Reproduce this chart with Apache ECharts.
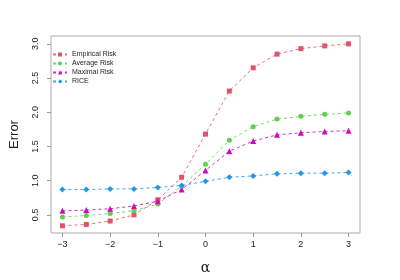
<!DOCTYPE html>
<html><head><meta charset="utf-8">
<script src="https://cdn.jsdelivr.net/npm/echarts@6/dist/echarts.min.js"></script>
<style>html,body{margin:0;padding:0;background:#fff}#c{width:400px;height:280px}</style>
</head><body><div id="c"></div>
<script>
const alphas = [-3,-2.5,-2,-1.5,-1,-0.5,0,0.5,1,1.5,2,2.5,3];
const empirical = [0.34,0.36,0.41,0.50,0.72,1.05,1.68,2.31,2.65,2.85,2.93,2.97,3.00];
const average   = [0.47,0.49,0.52,0.56,0.66,0.92,1.24,1.59,1.79,1.90,1.94,1.97,1.99];
const maximal   = [0.56,0.57,0.59,0.63,0.70,0.87,1.15,1.43,1.58,1.67,1.70,1.72,1.73];
const rice      = [0.87,0.87,0.88,0.88,0.90,0.93,0.99,1.05,1.07,1.10,1.11,1.11,1.12];
const xTicks = [-3,-2,-1,0,1,2,3];
const yTicks = [0.5,1.0,1.5,2.0,2.5,3.0];
const names = ['Empirical Risk','Average Risk','Maximal Risk','RICE'];
const colors = ['#DF536B','#61D04F','#CD0BBC','#2297E6'];
const symbols = ['rect','circle','triangle','diamond'];
const sizes = [5,5,6,6];
const vals = [empirical, average, maximal, rice];

const font = 'Liberation Sans, Arial, sans-serif';
const chart = echarts.init(document.getElementById('c'), null, {renderer:'canvas'});
chart.setOption({
  animation:false,
  grid:{left:41,right:40,top:36,bottom:36.5,show:true,borderColor:'#aaa',borderWidth:1,backgroundColor:'transparent'},
  legend:{
    orient:'vertical',left:48,top:47,padding:4,itemWidth:14,itemHeight:5,itemGap:2,
    textStyle:{fontSize:7,lineHeight:6.5,fontFamily:font,color:'#222'},
    data:names
  },
  xAxis:{
    type:'value',min:-3.24,max:3.24,position:'bottom',
    name:'α',nameLocation:'middle',nameGap:28,
    nameTextStyle:{fontSize:14,fontFamily:'DejaVu Serif, serif',color:'#222'},
    axisLine:{show:false,onZero:false},
    splitLine:{show:false},
    axisTick:{show:true,length:4,lineStyle:{color:'#999'},customValues:xTicks},
    axisLabel:{fontSize:9,fontFamily:font,color:'#222',margin:7,customValues:xTicks,
      formatter:v=>String(v).replace('-','\u2212')}
  },
  yAxis:{
    type:'value',min:0.235,max:3.115,position:'left',
    name:'Error',nameLocation:'middle',nameGap:30,nameRotate:90,
    nameTextStyle:{fontSize:13,fontFamily:font,color:'#222'},
    axisLine:{show:false,onZero:false},
    splitLine:{show:false},
    axisTick:{show:true,length:4,lineStyle:{color:'#999'},customValues:yTicks},
    axisLabel:{fontSize:9,fontFamily:font,color:'#222',margin:11,rotate:90,customValues:yTicks,
      formatter:v=>v.toFixed(1)}
  },
  series: names.map((n,i)=>({
    name:n,type:'line',
    data: alphas.map((a,j)=>[a,vals[i][j]]),
    symbol:symbols[i],symbolSize:sizes[i],showAllSymbol:true,
    itemStyle:{color:colors[i]},
    lineStyle:{color:colors[i],width:1,type:[3,3],opacity:0.85}
  }))
});
</script></body></html>
